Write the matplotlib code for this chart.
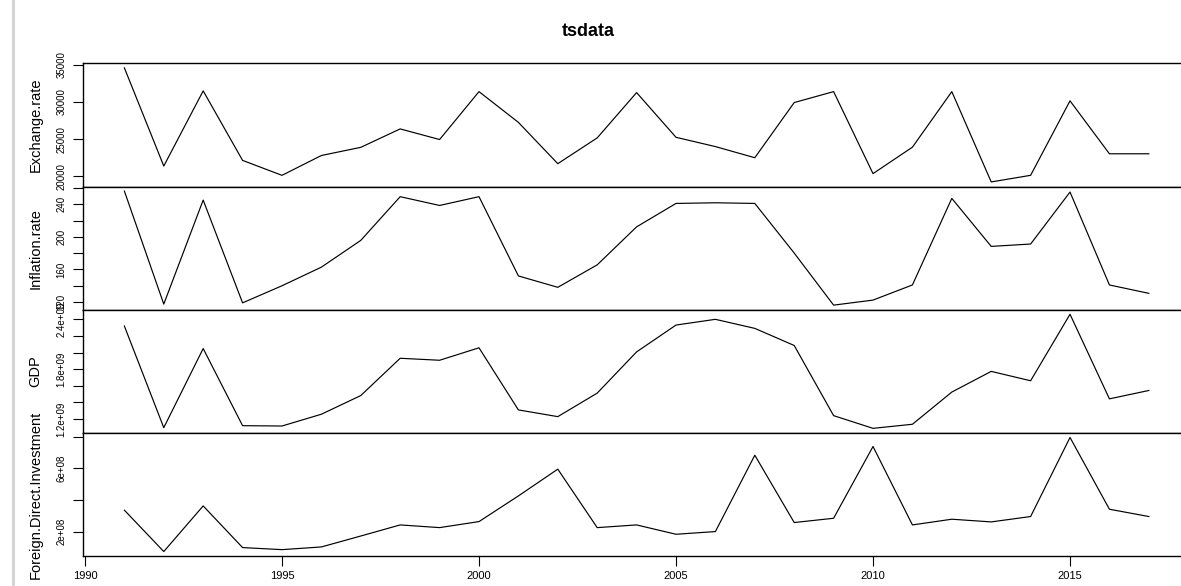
import matplotlib
matplotlib.use('Agg')
import matplotlib.pyplot as plt
from matplotlib.lines import Line2D

plt.rcParams['font.family'] = ['Liberation Sans', 'DejaVu Sans']

# ---------------- data ----------------
years = list(range(1991, 2018))
exchange_rate = [34600, 21380, 31500, 22140, 20130, 22800, 23900, 26380, 24950,
                 31400, 27260, 21700, 25170, 31270, 25250, 24000, 22500, 29930,
                 31400, 20360, 23920, 31400, 19240, 20130, 30160, 23030, 23030]
inflation_rate = [256.4, 117.5, 245.3, 119.0, 140.0, 162.9, 195.8, 249.5, 238.7,
                  249.5, 152.1, 138.1, 165.7, 212.4, 241.2, 242.0, 241.2, 180.2,
                  116.2, 122.4, 141.0, 247.4, 188.4, 191.3, 255.2, 141.0, 130.7]
gdp = [2.319e9, 1.095e9, 2.048e9, 1.119e9, 1.115e9, 1.257e9, 1.482e9, 1.931e9,
       1.907e9, 2.057e9, 1.309e9, 1.228e9, 1.511e9, 2.008e9, 2.331e9, 2.400e9,
       2.291e9, 2.085e9, 1.240e9, 1.087e9, 1.136e9, 1.524e9, 1.773e9, 1.660e9,
       2.461e9, 1.442e9, 1.543e9]
fdi = [3.35e8, 0.74e8, 3.62e8, 0.99e8, 0.86e8, 1.03e8, 1.72e8, 2.42e8, 2.25e8,
       2.63e8, 4.25e8, 5.94e8, 2.25e8, 2.42e8, 1.83e8, 2.00e8, 6.82e8, 2.57e8,
       2.84e8, 7.37e8, 2.42e8, 2.78e8, 2.61e8, 2.95e8, 7.94e8, 3.41e8, 2.95e8]

series_names = ['Exchange.rate', 'Inflation.rate', 'GDP', 'Foreign.Direct.Investment']
title = 'tsdata'

exchange_ticks = [20000, 25000, 30000, 35000]
exchange_labels = ['20000', '25000', '30000', '35000']
inflation_ticks = [120, 140, 160, 180, 200, 220, 240, 260]
inflation_labels = ['120', '', '160', '', '200', '', '240', '']
gdp_ticks = [1.2e9, 1.4e9, 1.6e9, 1.8e9, 2.0e9, 2.2e9, 2.4e9]
gdp_labels = ['1.2e+09', '', '', '1.8e+09', '', '', '2.4e+09']
fdi_ticks = [2e8, 4e8, 6e8, 8e8]
fdi_labels = ['2e+08', '', '6e+08', '']
year_ticks = [1990, 1995, 2000, 2005, 2010, 2015]
year_labels = ['1990', '1995', '2000', '2005', '2010', '2015']

# ---------------- figure ----------------
W, H = 1181, 586
fig = plt.figure(figsize=(W / 100, H / 100), dpi=100)
fig.patch.set_facecolor('white')

left_px = 83.4
width_px = 1106.4
top_px = 63.3
panel_h = 123.2

all_series = [exchange_rate, inflation_rate, gdp, fdi]
all_ticks = [exchange_ticks, inflation_ticks, gdp_ticks, fdi_ticks]
all_labels = [exchange_labels, inflation_labels, gdp_labels, fdi_labels]

xr = max(years) - min(years)
xlim = (min(years) - 0.04 * xr, max(years) + 0.04 * xr)

for i, (vals, ticks, labs, name) in enumerate(zip(all_series, all_ticks, all_labels, series_names)):
    t = top_px + i * panel_h
    ax = fig.add_axes([left_px / W, 1 - (t + panel_h) / H, width_px / W, panel_h / H])
    ax.plot(years, vals, color='black', lw=0.85)
    yr = max(vals) - min(vals)
    ax.set_ylim(min(vals) - 0.04 * yr, max(vals) + 0.04 * yr)
    ax.set_xlim(*xlim)
    for s in ax.spines.values():
        s.set_linewidth(1.0)
        s.set_color('black')
    ax.set_yticks(ticks)
    ax.set_yticklabels(labs)
    ax.tick_params(axis='y', direction='out', length=7, width=0.8, pad=5,
                   labelsize=7, labelrotation=90)
    for lab in ax.get_yticklabels():
        lab.set_va('center')
        lab.set_ha('right')
    if i == 3:
        ax.set_xticks(year_ticks)
        ax.set_xticklabels(year_labels)
        ax.tick_params(axis='x', direction='out', length=7, width=0.8, pad=4,
                       labelsize=8)
    else:
        ax.set_xticks([])
    cy = 1 - (t + panel_h / 2) / H
    fig.text(35.5 / W, cy, name, rotation=90, ha='center', va='center', fontsize=10.5)

fig.text(588 / W, 1 - 31 / H, title, ha='center', va='center', fontsize=13,
         fontweight='bold')

# grey window border on the left
fig.add_artist(Line2D([12.8 / W, 12.8 / W], [0, 1], color='#d4d4d4', lw=2.2,
                      transform=fig.transFigure))

fig.savefig('out.png', dpi=100)
